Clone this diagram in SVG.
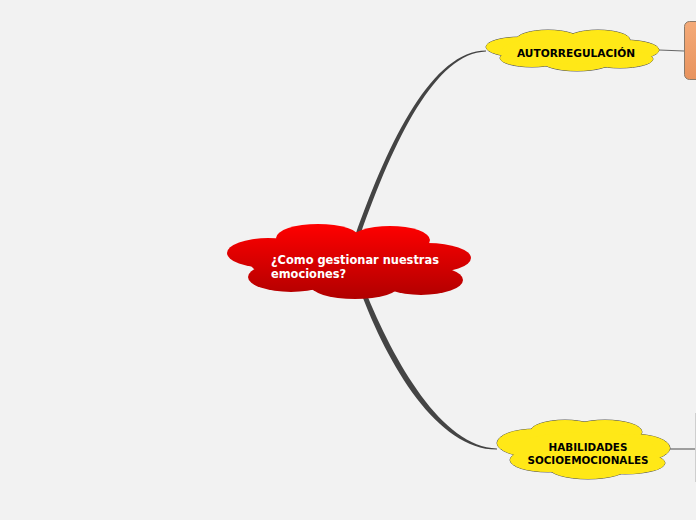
<svg xmlns="http://www.w3.org/2000/svg" width="696" height="520" viewBox="0 0 696 520">
<defs>
<linearGradient id="redG" gradientUnits="userSpaceOnUse" x1="0" y1="224" x2="0" y2="299">
<stop offset="0" stop-color="#ff0000"/>
<stop offset="1" stop-color="#b00000"/>
</linearGradient>
<linearGradient id="orG" x1="0" y1="0" x2="0" y2="1">
<stop offset="0" stop-color="#f4aa78"/>
<stop offset="1" stop-color="#e8935e"/>
</linearGradient>
<style>
.ylo ellipse{fill:#ffe817;stroke:#555;stroke-width:1}
.yli ellipse{fill:#ffe817}
.red ellipse{fill:url(#redG)}
.lbl{font-family:"DejaVu Sans",Verdana,sans-serif;font-weight:bold}
.conn{fill:#444}
.thin{stroke:#666;stroke-width:1.2;fill:none}
</style>
</defs>
<rect width="696" height="520" fill="#f2f2f2"/>
<g id="connectors">
<path class="conn" d="M355,236 C390,137 433,51 486,50.4 L486,51.6 C436,53 394,139 360,236 Z"/>
<path class="conn" d="M360,290 C388,366 438,450 497,449.6 L497,448.4 C442,447 394,362 365,290 Z"/>
<line class="thin" x1="659" y1="50" x2="684" y2="51"/>
<line class="thin" x1="670" y1="449" x2="696" y2="449"/>
</g>
<g id="center">
<g class="red">
<ellipse cx="268" cy="253" rx="41" ry="15"/>
<ellipse cx="318" cy="238" rx="42" ry="14"/>
<ellipse cx="390" cy="240" rx="40" ry="14"/>
<ellipse cx="428" cy="258" rx="43" ry="15"/>
<ellipse cx="421" cy="280" rx="42" ry="15"/>
<ellipse cx="355" cy="285" rx="45" ry="14"/>
<ellipse cx="291" cy="277" rx="43" ry="15"/>
<ellipse cx="350" cy="262" rx="100" ry="25"/>
</g>
<text class="lbl" fill="#fff" font-size="11.4"><tspan x="271" y="264">¿Como gestionar nuestras</tspan><tspan x="271" y="278">emociones?</tspan></text>
</g>
<g id="autorregulacion">
<g class="ylo">
<ellipse cx="520" cy="47" rx="34" ry="10"/>
<ellipse cx="548" cy="40" rx="32" ry="10"/>
<ellipse cx="598" cy="40" rx="32" ry="10"/>
<ellipse cx="625" cy="50" rx="34" ry="10"/>
<ellipse cx="620" cy="59" rx="33" ry="9"/>
<ellipse cx="577" cy="62" rx="34" ry="9"/>
<ellipse cx="532" cy="58" rx="32" ry="9"/>
</g>
<g class="yli">
<ellipse cx="520" cy="47" rx="34" ry="10"/>
<ellipse cx="548" cy="40" rx="32" ry="10"/>
<ellipse cx="598" cy="40" rx="32" ry="10"/>
<ellipse cx="625" cy="50" rx="34" ry="10"/>
<ellipse cx="620" cy="59" rx="33" ry="9"/>
<ellipse cx="577" cy="62" rx="34" ry="9"/>
<ellipse cx="532" cy="58" rx="32" ry="9"/>
<ellipse cx="572" cy="50" rx="70" ry="14"/>
</g>
<text class="lbl" fill="#000" font-size="10.6" x="576" y="56.5" text-anchor="middle">AUTORREGULACIÓN</text>
</g>
<g id="habilidades">
<g class="ylo">
<ellipse cx="535" cy="443" rx="38" ry="14"/>
<ellipse cx="565" cy="432" rx="35" ry="12"/>
<ellipse cx="605" cy="432" rx="37" ry="12"/>
<ellipse cx="632" cy="448" rx="38" ry="14"/>
<ellipse cx="625" cy="463" rx="40" ry="11"/>
<ellipse cx="588" cy="467" rx="40" ry="12"/>
<ellipse cx="548" cy="460" rx="38" ry="12"/>
</g>
<g class="yli">
<ellipse cx="535" cy="443" rx="38" ry="14"/>
<ellipse cx="565" cy="432" rx="35" ry="12"/>
<ellipse cx="605" cy="432" rx="37" ry="12"/>
<ellipse cx="632" cy="448" rx="38" ry="14"/>
<ellipse cx="625" cy="463" rx="40" ry="11"/>
<ellipse cx="588" cy="467" rx="40" ry="12"/>
<ellipse cx="548" cy="460" rx="38" ry="12"/>
<ellipse cx="584" cy="450" rx="72" ry="18"/>
</g>
<text class="lbl" fill="#000" font-size="10.4" text-anchor="middle"><tspan x="588" y="451">HABILIDADES</tspan><tspan x="588" y="463.5">SOCIOEMOCIONALES</tspan></text>
</g>
<g id="orange-node">
<rect x="684.5" y="21.5" width="30" height="58" rx="5" fill="url(#orG)" stroke="#8a7a6a" stroke-width="1"/>
</g>
<g id="right-node">
<line x1="695.5" y1="413" x2="695.5" y2="482" stroke="#cfcfcf" stroke-width="1"/>
</g>
</svg>
